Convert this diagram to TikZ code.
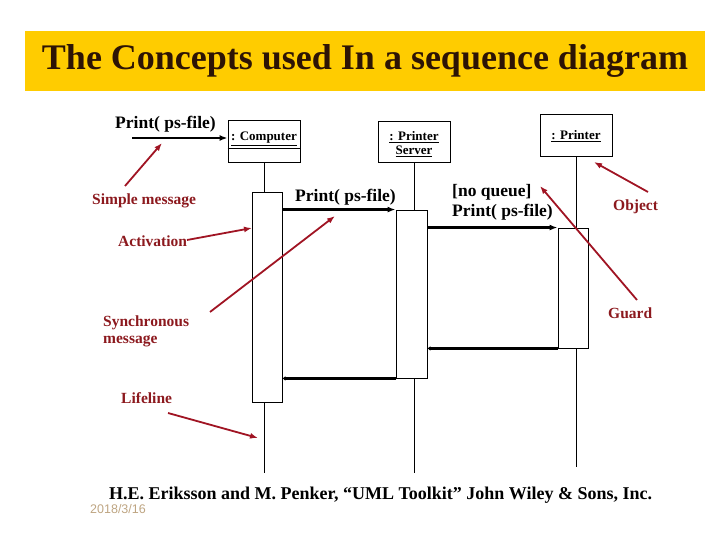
\documentclass[tikz,border=0pt]{standalone}
\usepackage{fontspec}
\setmainfont{Liberation Serif}
\newfontfamily\datefont{Liberation Sans}
\usetikzlibrary{arrows.meta}
\definecolor{titlebg}{RGB}{255,204,0}
\definecolor{titletext}{RGB}{45,20,5}
\definecolor{annot}{RGB}{160,20,35}
\definecolor{annottext}{RGB}{140,25,30}
\definecolor{datecol}{RGB}{190,165,130}
\begin{document}
\begin{tikzpicture}[x=1pt,y=-1pt,
 objbox/.style={draw,line width=0.9pt,inner sep=0,minimum width=72pt,minimum height=42pt},
 objtext/.style={font=\fontsize{13}{14}\selectfont\bfseries,align=center,inner sep=0},
 actbox/.style={draw,line width=0.9pt,fill=white,inner sep=0,minimum width=30pt},
 life/.style={line width=0.9pt},
 msg/.style={line width=2.1pt,-{Latex[length=8pt,width=6pt]}},
 ret/.style={line width=2.1pt,-{Latex[length=3pt,width=5pt]}},
 note/.style={text=annottext,font=\fontsize{15.5}{17}\selectfont\bfseries,align=left,inner sep=0,anchor=base west},
 pointer/.style={draw=annot,line width=1.8pt,-{Latex[length=8pt,width=6pt]}},
 msglabel/.style={font=\fontsize{17.5}{20}\selectfont\bfseries,align=left,inner sep=0,anchor=base west}
]
\useasboundingbox (0,0) rectangle (720,540);

% title
\node[fill=titlebg,minimum width=680pt,minimum height=60pt,inner sep=0,text=titletext,
  font=\fontsize{36}{38}\selectfont\bfseries] (title) at (365,61) {The Concepts used In a sequence diagram};

% objects
\node[objbox] (comp) at (264,141) {};
\node[objtext] (comptext) at (264,139) {\underline{: Computer}};
\draw[line width=0.9pt] (comp.west |- 0,148) -- (comp.east |- 0,148);
\node[objbox,minimum height=41pt] (server) at (414,141.5) {};
\node[objtext] (servertext) at (414,144) {\underline{: Printer}\\\underline{Server}};
\node[objbox] (printer) at (576,135) {};
\node[objtext] (printertext) at (576,136.5) {\underline{: Printer}};

% activations
\node[actbox,minimum height=210pt] (compact) at (267,297) {};
\node[actbox,minimum height=168pt,minimum width=31pt] (serveract) at (411.5,294) {};
\node[actbox,minimum height=120pt] (printact) at (573,288) {};

% lifelines
\coordinate (compend) at (264,473);
\coordinate (serverend) at (414,473);
\coordinate (printerend) at (576,467);
\draw[life] (comp.south) -- (comp.south |- compact.north);
\draw[life] (comp.south |- compact.south) -- (compend);
\draw[life] (server.south) -- (server.south |- serveract.north);
\draw[life] (server.south |- serveract.south) -- (serverend);
\draw[life] (printer.south) -- (printer.south |- printact.north);
\draw[life] (printer.south |- printact.south) -- (printerend);

% messages
\coordinate (m0start) at (132,138);
\draw[msg] (m0start) -- (m0start -| comp.west);
\draw[msg] (serveract.north west -| compact.east) -- (serveract.north west);
\draw[msg] (printact.north west -| serveract.east) -- (printact.north west);
\draw[ret] (printact.south west) -- (printact.south west -| serveract.east);
\draw[ret] (serveract.south west) -- (serveract.south west -| compact.east);

% message labels
\node[msglabel] (l0) at (115,129) {Print( ps-file)};
\node[msglabel] (l1) at (295,202) {Print( ps-file)};
\node[msglabel] (l2) at (452,216) {[no queue]\\Print( ps-file)};

% annotations
\node[note] (nsimple) at (92,205) {Simple message};
\node[note] (nact) at (118,247) {Activation};
\node[note] (nsync) at (103,343) {Synchronous\\message};
\node[note] (nlife) at (121,403) {Lifeline};
\node[note] (nobj) at (613,211) {Object};
\node[note] (nguard) at (608,318) {Guard};

\coordinate (ps1) at (125,186); \coordinate (pe1) at (162,143);
\coordinate (ps2) at (187,240); \coordinate (pe2) at (252,228);
\coordinate (ps3) at (210,312); \coordinate (pe3) at (335,216);
\coordinate (ps4) at (168,413); \coordinate (pe4) at (258,438);
\coordinate (ps5) at (648,192); \coordinate (pe5) at (594,162);
\coordinate (ps6) at (637,300); \coordinate (pe6) at (540,186);
\draw[pointer] (ps1) -- (pe1);
\draw[pointer] (ps2) -- (pe2);
\draw[pointer] (ps3) -- (pe3);
\draw[pointer] (ps4) -- (pe4);
\draw[pointer] (ps5) -- (pe5);
\draw[pointer] (ps6) -- (pe6);

% citation and date
\node[font=\fontsize{18}{20}\selectfont\bfseries,inner sep=0,anchor=base west] (cite) at (109,499)
  {H.E. Eriksson and M. Penker, “UML Toolkit” John Wiley \& Sons, Inc.};
\node[font=\datefont\fontsize{12.5}{14}\selectfont,text=datecol,inner sep=0,anchor=base west] (date) at (90,513) {2018/3/16};
\end{tikzpicture}
\end{document}
